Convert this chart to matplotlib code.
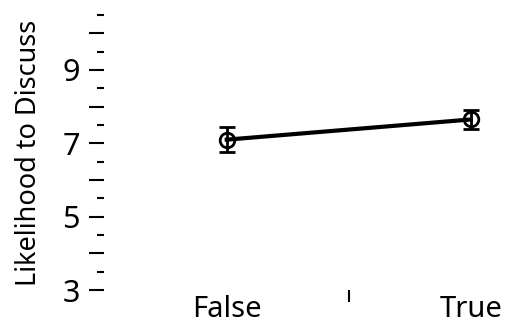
import numpy as np
import matplotlib.pyplot as plt
from matplotlib.ticker import FixedLocator, FixedFormatter

plt.rcParams['font.family'] = ['Noto Sans', 'DejaVu Sans']

# condition labels, group means and error bar half-widths
conditions = ['False', 'True']
means = [7.10, 7.65]
errors = [0.34, 0.25]

fig = plt.figure(figsize=(5.08, 3.24), dpi=100)
W, H = 508.0, 324.0
ax = fig.add_axes([104 / W, 1 - 290 / H, (500 - 104) / W, (290 - 5) / H])

xpos = np.arange(len(conditions))
ax.errorbar(xpos, means, yerr=errors, color='black', linewidth=3,
            elinewidth=2, capsize=6, capthick=2.2,
            marker='o', markersize=10.5, markerfacecolor='none',
            markeredgewidth=2, markeredgecolor='black')

ax.set_xlim(-0.503, 1.12)
ax.set_ylim(3, 3 + 285 / 36.67)

for s in ax.spines.values():
    s.set_visible(False)

# y axis: labelled majors every 2, long ticks every 1, short ticks every 0.5
ax.yaxis.set_major_locator(FixedLocator(np.arange(3, 11, 1)))
ax.yaxis.set_major_formatter(FixedFormatter(
    [str(v) if v % 2 == 1 else '' for v in range(3, 11)]))
ax.yaxis.set_minor_locator(FixedLocator(np.arange(3.5, 11, 1)))
ax.tick_params(axis='y', which='major', length=10.5, width=1.5,
               labelsize=22, pad=7)
ax.tick_params(axis='y', which='minor', length=5, width=1.5)

# x axis: labels at the conditions, single tick between them
ax.set_xticks(xpos)
ax.set_xticklabels(conditions)
ax.xaxis.set_minor_locator(FixedLocator([0.5]))
ax.tick_params(axis='x', which='major', length=0, labelsize=21, pad=3.5)
ax.tick_params(axis='x', which='minor', length=8.5, width=1.5)

ax.set_ylabel('Likelihood to Discuss', fontsize=19.5)
ax.yaxis.set_label_coords(-0.153, 0.482)

fig.savefig('out.png', dpi=100)
